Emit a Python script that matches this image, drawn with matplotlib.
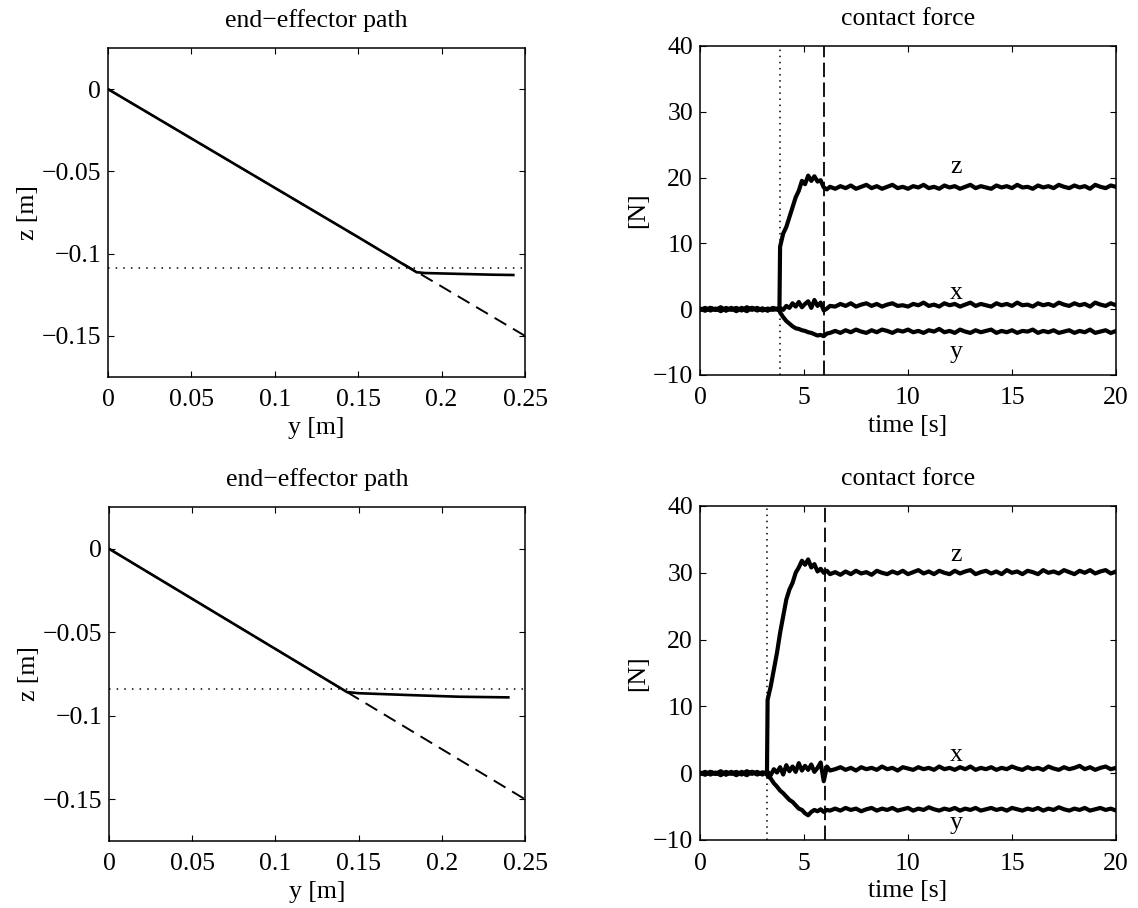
import matplotlib
matplotlib.use("Agg")
import matplotlib.pyplot as plt
from matplotlib.ticker import FuncFormatter

plt.rcParams["font.family"] = ["Liberation Serif", "DejaVu Serif"]
plt.rcParams["axes.unicode_minus"] = True

# end-effector path, first experiment
path1_y = [0.0, 0.05, 0.1, 0.15, 0.185, 0.19, 0.21, 0.23, 0.243]
path1_z = [0.0, -0.030, -0.060, -0.090, -0.1113, -0.1118, -0.1123, -0.1128, -0.1130]
surface1_z = -0.1085

# end-effector path, second experiment
path2_y = [0.0, 0.05, 0.1, 0.143, 0.15, 0.18, 0.21, 0.24]
path2_z = [0.0, -0.030, -0.060, -0.0858, -0.0865, -0.0876, -0.0886, -0.0890]
surface2_z = -0.0838

# reference (planned) path
ref_y = [0.0, 0.25]
ref_z = [0.0, -0.15]

# contact force, first experiment (contact at ~3.85 s, switch at ~5.95 s)
t_contact1, t_switch1 = 3.85, 5.95
time1 = [0.0, 0.25, 0.5, 0.75, 1.0, 1.25, 1.5, 1.75, 2.0, 2.25, 2.5, 2.75, 3.0, 3.25, 3.5, 3.75,
         3.82, 3.85, 4.0, 4.15, 4.3, 4.45, 4.6, 4.75, 4.9, 5.05, 5.2, 5.35, 5.5, 5.65, 5.8, 5.95,
         6.1, 6.25, 6.5, 6.75, 7.0, 7.25, 7.5, 7.75, 8.0, 8.25, 8.5, 8.75, 9.0, 9.25, 9.5, 9.75,
         10.0, 10.25, 10.5, 10.75, 11.0, 11.25, 11.5, 11.75, 12.0, 12.25, 12.5, 12.75, 13.0, 13.25,
         13.5, 13.75, 14.0, 14.25, 14.5, 14.75, 15.0, 15.25, 15.5, 15.75, 16.0, 16.25, 16.5, 16.75,
         17.0, 17.25, 17.5, 17.75, 18.0, 18.25, 18.5, 18.75, 19.0, 19.25, 19.5, 19.75, 20.0]
fz1 = [0.1, -0.2, 0.2, -0.1, 0.3, -0.2, 0.1, -0.3, 0.2, -0.1, 0.2, -0.2, 0.1, -0.2, 0.2, 0.0,
       0.1, 9.5, 11.5, 12.5, 14.0, 15.5, 17.0, 18.0, 19.5, 19.0, 20.3, 19.5, 20.2, 19.4, 19.6, 18.5,
       18.2, 18.6, 18.3, 18.7, 18.4, 18.8, 18.3, 18.6, 18.9, 18.4, 18.7, 18.3, 18.6, 18.9, 18.4, 18.6,
       18.3, 18.7, 18.5, 18.9, 18.4, 18.6, 18.3, 18.8, 18.5, 18.7, 18.3, 18.6, 18.9, 18.4, 18.7, 18.5,
       18.3, 18.8, 18.5, 18.7, 18.4, 18.9, 18.5, 18.6, 18.3, 18.8, 18.5, 18.7, 18.4, 18.9, 18.6, 18.4,
       18.8, 18.5, 18.7, 18.3, 18.9, 18.6, 18.4, 18.8, 18.6]
fx1 = [-0.1, 0.2, -0.2, 0.1, -0.3, 0.2, -0.1, 0.2, -0.2, 0.3, -0.1, 0.2, -0.2, 0.1, -0.1, 0.1,
       0.0, 0.2, -0.1, 0.5, 0.2, 0.9, 0.4, 1.1, 0.3, 0.8, 1.2, 0.2, 1.4, 0.5, 1.0, -0.2,
       0.1, 0.5, 0.4, 0.8, 0.5, 0.9, 0.4, 0.7, 0.9, 0.5, 0.8, 0.4, 0.7, 0.9, 0.5, 0.6,
       0.4, 0.8, 0.6, 1.0, 0.5, 0.7, 0.4, 0.9, 0.6, 0.8, 0.4, 0.7, 1.0, 0.5, 0.8, 0.6,
       0.4, 0.9, 0.6, 0.8, 0.5, 1.0, 0.6, 0.7, 0.4, 0.9, 0.6, 0.8, 0.5, 1.0, 0.7, 0.5,
       0.9, 0.6, 0.8, 0.4, 1.0, 0.7, 0.5, 0.9, 0.6]
fy1 = [0.0, -0.2, 0.2, -0.1, 0.1, -0.2, 0.2, -0.1, 0.1, -0.3, 0.2, -0.1, 0.1, -0.2, 0.1, -0.1,
       0.0, -0.5, -1.2, -1.8, -2.2, -2.6, -2.9, -3.0, -3.2, -3.3, -3.5, -3.6, -3.8, -4.0, -3.9, -4.1,
       -3.7, -3.6, -3.3, -3.6, -3.2, -3.5, -3.1, -3.4, -3.6, -3.2, -3.5, -3.1, -3.3, -3.6, -3.2, -3.4,
       -3.1, -3.5, -3.3, -3.6, -3.2, -3.4, -3.0, -3.5, -3.3, -3.6, -3.1, -3.4, -3.6, -3.2, -3.5, -3.3,
       -3.1, -3.6, -3.3, -3.5, -3.2, -3.6, -3.3, -3.4, -3.1, -3.6, -3.3, -3.5, -3.2, -3.6, -3.4, -3.2,
       -3.6, -3.3, -3.5, -3.1, -3.6, -3.4, -3.2, -3.6, -3.3]

# contact force, second experiment (contact at 3.2 s, switch at 6.0 s)
t_contact2, t_switch2 = 3.2, 6.0
time2 = [0.0, 0.25, 0.5, 0.75, 1.0, 1.25, 1.5, 1.75, 2.0, 2.25, 2.5, 2.75, 3.0, 3.15,
         3.22, 3.25, 3.4, 3.55, 3.7, 3.85, 4.0, 4.15, 4.3, 4.45, 4.6, 4.75, 4.9, 5.05, 5.2, 5.35,
         5.5, 5.65, 5.8, 5.95, 6.1, 6.25, 6.5, 6.75, 7.0, 7.25, 7.5, 7.75, 8.0, 8.25, 8.5, 8.75,
         9.0, 9.25, 9.5, 9.75, 10.0, 10.25, 10.5, 10.75, 11.0, 11.25, 11.5, 11.75, 12.0, 12.25,
         12.5, 12.75, 13.0, 13.25, 13.5, 13.75, 14.0, 14.25, 14.5, 14.75, 15.0, 15.25, 15.5, 15.75,
         16.0, 16.25, 16.5, 16.75, 17.0, 17.25, 17.5, 17.75, 18.0, 18.25, 18.5, 18.75, 19.0, 19.25,
         19.5, 19.75, 20.0]
fz2 = [0.1, -0.2, 0.2, -0.1, 0.3, -0.2, 0.1, -0.3, 0.2, -0.1, 0.2, -0.2, 0.1, 0.0,
       0.1, 11.0, 13.0, 15.5, 18.0, 21.0, 23.5, 26.0, 27.5, 28.5, 30.0, 30.8, 31.8, 31.2, 32.0, 30.8,
       31.3, 30.2, 30.6, 30.0, 30.3, 29.8, 30.1, 29.7, 30.2, 29.8, 30.3, 29.9, 30.1, 29.7, 30.3, 30.0,
       29.8, 30.2, 29.9, 30.3, 29.8, 30.1, 30.4, 29.9, 30.2, 29.8, 30.3, 30.0, 29.8, 30.3,
       29.9, 30.2, 30.4, 29.8, 30.1, 30.3, 29.9, 30.2, 29.8, 30.4, 30.0, 30.2, 29.8, 30.3,
       30.1, 29.8, 30.4, 30.0, 30.2, 29.9, 30.4, 30.1, 29.8, 30.3, 30.0, 30.4, 29.9, 30.2,
       30.4, 29.9, 30.2]
fx2 = [-0.1, 0.2, -0.2, 0.1, -0.3, 0.2, -0.1, 0.2, -0.2, 0.3, -0.1, 0.2, -0.2, 0.1,
       0.0, 0.2, -0.3, 0.6, 0.1, 0.9, -0.2, 1.2, 0.3, 1.0, 0.2, 1.5, 0.4, 1.1, 0.5, 1.3,
       0.2, 0.8, 1.6, -1.2, 1.0, 0.4, 0.6, 0.9, 0.5, 0.8, 0.4, 0.9, 0.6, 0.8, 0.5, 1.0,
       0.6, 0.8, 0.4, 0.9, 0.7, 0.5, 0.9, 0.6, 0.8, 0.5, 1.0, 0.6, 0.8, 0.5,
       0.9, 0.6, 1.0, 0.5, 0.8, 0.6, 0.9, 0.5, 0.8, 0.6, 1.0, 0.7, 0.5, 0.9,
       0.6, 0.8, 0.5, 1.0, 0.7, 0.5, 0.9, 0.6, 0.8, 1.1, 0.6, 0.9, 0.5, 0.8,
       1.0, 0.6, 0.8]
fy2 = [0.0, -0.2, 0.2, -0.1, 0.1, -0.2, 0.2, -0.1, 0.1, -0.3, 0.2, -0.1, 0.1, 0.0,
       -0.1, -0.4, -0.8, -1.5, -2.0, -2.6, -3.0, -3.5, -4.0, -4.3, -4.8, -5.3, -5.5, -6.0, -6.3, -5.8,
       -5.5, -5.7, -5.4, -5.8, -5.5, -5.6, -5.3, -5.6, -5.2, -5.5, -5.3, -5.7, -5.4, -5.2, -5.6, -5.3,
       -5.5, -5.2, -5.6, -5.4, -5.2, -5.6, -5.3, -5.5, -5.1, -5.4, -5.6, -5.3, -5.5, -5.2,
       -5.6, -5.3, -5.5, -5.2, -5.6, -5.4, -5.2, -5.5, -5.3, -5.6, -5.2, -5.4, -5.6, -5.3,
       -5.5, -5.2, -5.6, -5.3, -5.5, -5.1, -5.4, -5.6, -5.3, -5.5, -5.2, -5.6, -5.4, -5.2,
       -5.5, -5.3, -5.6]

path_yticks = [0, 0.05, 0.1, 0.15, 0.2, 0.25]
path_zticks = [0, -0.05, -0.1, -0.15]
force_tticks = [0, 5, 10, 15, 20]
force_fticks = [-10, 0, 10, 20, 30, 40]

# label positions for the force components (data coords)
labels1 = {"z": (12.3, 21.6), "x": (12.3, 2.5), "y": (12.3, -6.5)}
labels2 = {"z": (12.3, 32.6), "x": (12.3, 2.7), "y": (12.3, -7.5)}

FS = 18.5


def fmt(v, pos):
    s = "%g" % v
    return s.replace("-", "\u2212")


def style_axes(ax):
    ax.tick_params(direction="in", top=True, right=True, length=4, width=0.8,
                   labelsize=FS)
    ax.tick_params(axis="x", pad=9)
    ax.tick_params(axis="y", pad=5)
    for sp in ax.spines.values():
        sp.set_linewidth(1.1)
    ax.xaxis.set_major_formatter(FuncFormatter(fmt))
    ax.yaxis.set_major_formatter(FuncFormatter(fmt))


def draw_path(ax, py, pz, surf):
    ax.plot(ref_y, ref_z, color="black", lw=1.4, linestyle=(0, (7, 4)))
    ax.axhline(surf, color="black", lw=1.1, linestyle=(0, (1, 4)))
    ax.plot(py, pz, color="black", lw=1.9)
    ax.set_xlim(0, 0.25)
    ax.set_ylim(-0.175, 0.025)
    ax.set_xticks(path_yticks)
    ax.set_yticks(path_zticks)
    ax.set_title("end\u2212effector path", fontsize=FS, pad=15)
    ax.set_xlabel("y [m]", fontsize=FS, labelpad=4)
    ax.set_ylabel("z [m]", fontsize=FS, labelpad=2)
    style_axes(ax)


def draw_force(ax, t, fx, fy, fz, tc, ts, labels):
    ax.axvline(tc, color="black", lw=1.1, linestyle=(0, (1, 3)))
    ax.axvline(ts, color="black", lw=1.3, linestyle=(0, (8, 3)))
    for f in (fx, fy, fz):
        ax.plot(t, f, color="black", lw=3.0)
    for name, (tx, ty) in labels.items():
        ax.text(tx, ty, name, fontsize=FS, ha="center", va="center")
    ax.set_xlim(0, 20)
    ax.set_ylim(-10, 40)
    ax.set_xticks(force_tticks)
    ax.set_yticks(force_fticks)
    ax.set_title("contact force", fontsize=FS, pad=15)
    ax.set_xlabel("time [s]", fontsize=FS, labelpad=4)
    ax.set_ylabel("[N]", fontsize=FS, labelpad=3)
    style_axes(ax)


fig = plt.figure(figsize=(11.38, 9.08), dpi=100)
W, H = 1138.0, 908.0


def add_axes(x0, y0, x1, y1):
    return fig.add_axes([x0 / W, 1 - y1 / H, (x1 - x0) / W, (y1 - y0) / H])


ax1 = add_axes(108, 48, 525, 377)
ax2 = add_axes(700, 46, 1116, 375)
ax3 = add_axes(109, 507, 525, 841)
ax4 = add_axes(700, 506, 1116, 840)

draw_path(ax1, path1_y, path1_z, surface1_z)
draw_force(ax2, time1, fx1, fy1, fz1, t_contact1, t_switch1, labels1)
draw_path(ax3, path2_y, path2_z, surface2_z)
draw_force(ax4, time2, fx2, fy2, fz2, t_contact2, t_switch2, labels2)

fig.savefig("out.png", dpi=100)
